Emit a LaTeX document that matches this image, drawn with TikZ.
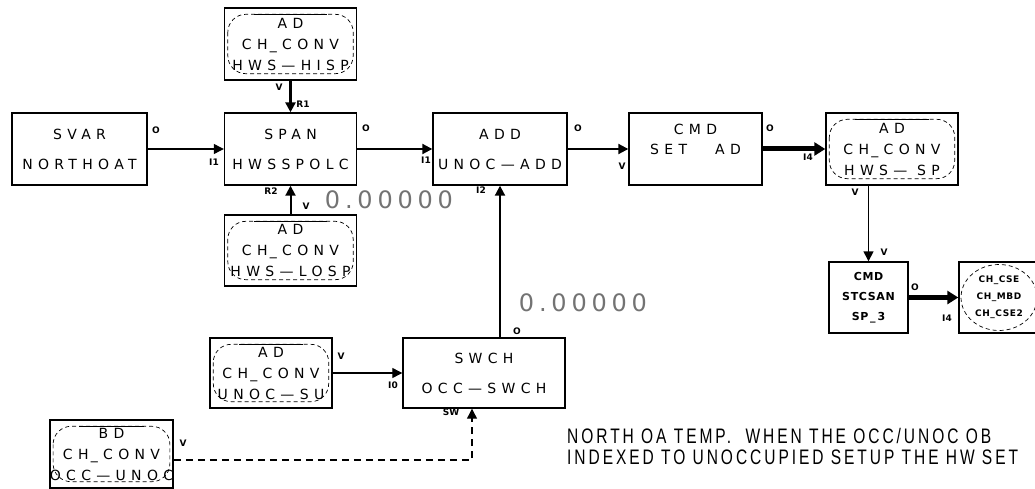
\documentclass[tikz,border=0pt]{standalone}
\usepackage{fontspec}
\usetikzlibrary{arrows.meta}
\newfontfamily\blkfont[LetterSpace=38]{DejaVu Sans}
\newfontfamily\tightfont[LetterSpace=6]{DejaVu Sans}
\newfontfamily\pinfont{DejaVu Sans}
\newfontfamily\valfont[LetterSpace=20]{DejaVu Sans}
\newfontfamily\notefont[FakeStretch=0.74,LetterSpace=14]{Liberation Sans}

\begin{document}
\begin{tikzpicture}[x=1pt,y=-1pt,
    blk/.style={draw, line width=1.4pt, align=center, inner sep=0pt, font=\blkfont\fontsize{14}{30}\selectfont},
    adblk/.style={blk, font=\blkfont\fontsize{14}{21}\selectfont},
    smblk/.style={blk, font=\tightfont\bfseries\fontsize{11}{20}\selectfont},
    ovl/.style={line width=0.7pt, dash pattern=on 4pt off 3pt, rounded corners=18pt},
    pinlbl/.style={font=\pinfont\bfseries\fontsize{9}{9}\selectfont, inner sep=0pt},
    sig/.style={line width=1.2pt, -{Triangle[length=10pt,width=10pt]}},
    valtxt/.style={font=\valfont\fontsize{24}{24}\selectfont, text=black!55, inner sep=0pt}
  ]
  \useasboundingbox (0,0) rectangle (1035,489);

  \node[blk, minimum width=135pt, minimum height=72pt] (svar) at (79.5,149) {SVAR\\NORTHOAT};
  \node[blk, minimum width=132pt, minimum height=72pt] (span) at (290.5,149) {SPAN\\HWSSPOLC};
  \node[adblk, minimum width=132pt, minimum height=72pt] (hisp) at (290.5,44) {AD\\CH\,\_CONV\\HWS—HISP};
  \node[adblk, minimum width=132pt, minimum height=71pt] (losp) at (290.5,250.5) {AD\\CH\,\_CONV\\HWS—LOSP};
  \node[blk, minimum width=134pt, minimum height=72pt] (add) at (500,149) {ADD\\UNOC—ADD};
  \node[adblk, minimum width=133pt, minimum height=72pt, font=\blkfont\fontsize{14}{20}\selectfont] (cmdad) at (695.5,149) {CMD\\SET\qquad AD\\\mbox{}};
  \node[adblk, minimum width=132pt, minimum height=72pt] (hwssp) at (892,149) {AD\\CH\,\_CONV\\HWS— SP};
  \node[smblk, minimum width=79pt, minimum height=71pt] (stcsan) at (868.5,297.5) {CMD\\STCSAN\\SP\,\_\,3};
  \node[smblk, minimum width=80pt, minimum height=71pt, font=\tightfont\bfseries\fontsize{9}{17}\selectfont] (cse) at (999,297.5) {CH\_CSE\\CH\_MBD\\CH\_CSE2};
  \node[adblk, minimum width=122pt, minimum height=70pt] (unocsu) at (271,373) {AD\\CH\,\_CONV\\UNOC—SU};
  \node[blk, minimum width=162pt, minimum height=70pt] (swch) at (484,373) {SWCH\\OCC—SWCH};
  \node[adblk, minimum width=123pt, minimum height=68pt] (bd) at (111.5,454) {BD\\CH\,\_CONV\\OCC—UNOC};

  \foreach \b in {hisp,losp,hwssp,unocsu,bd} {
    \draw[ovl] ([shift={(4,7)}]\b.north west) rectangle ([shift={(-4,-7)}]\b.south east);
    \draw[line width=0.9pt] ([shift={(30,7)}]\b.north west) -- ([shift={(-30,7)}]\b.north east);
  }
  \draw[ovl] (cse.center) ellipse [x radius=38pt, y radius=33pt];

  \draw[sig] (svar.east) -- (span.west);
  \draw[sig, line width=2pt] (span.east) -- (add.west);
  \draw[sig, line width=2.5pt] (hisp.south) -- (span.north);
  \draw[sig, line width=2pt] (losp.north) -- (span.south);
  \draw[sig, line width=2pt] (add.east) -- (cmdad.west);
  \draw[sig, line width=2pt] (swch.north -| add.south) -- (add.south);
  \draw[sig] (unocsu.east) -- (swch.west);
  \draw[sig, dash pattern=on 7pt off 5pt] (bd.east |- 0,460) -| ([xshift=-12pt]swch.south);
  \draw[sig, line width=5pt, -{Triangle[length=11pt,width=13pt]}] (cmdad.east) -- (hwssp.west);
  \draw[sig, line width=1.5pt] (hwssp.south -| stcsan.north) -- (stcsan.north);
  \draw[sig, line width=5pt, -{Triangle[length=11pt,width=13pt]}] (stcsan.east) -- (cse.west);

  \node[pinlbl] (svar-o) at (156,130) {O};
  \node[pinlbl] (span-i) at (214,162) {I1};
  \node[pinlbl] (span-o) at (366,128) {O};
  \node[pinlbl] (span-r1) at (303,104) {R1};
  \node[pinlbl] (span-r2) at (271,191) {R2};
  \node[pinlbl] (hisp-v) at (279,87) {V};
  \node[pinlbl] (losp-v) at (306,206) {V};
  \node[pinlbl] (add-i1) at (426,160) {I1};
  \node[pinlbl] (add-i2) at (481,190) {I2};
  \node[pinlbl] (add-o) at (578,128) {O};
  \node[pinlbl] (cmdad-v) at (622,166) {V};
  \node[pinlbl] (cmdad-o) at (770,128) {O};
  \node[pinlbl] (hwssp-i) at (808,157) {I4};
  \node[pinlbl] (hwssp-v) at (855,192) {V};
  \node[pinlbl] (stcsan-v) at (884,252) {V};
  \node[pinlbl] (stcsan-o) at (915,287) {O};
  \node[pinlbl] (cse-i) at (947,318) {I4};
  \node[pinlbl] (unocsu-v) at (341,356) {V};
  \node[pinlbl] (swch-i0) at (393,385) {I0};
  \node[pinlbl] (swch-o) at (517,331) {O};
  \node[pinlbl] (swch-sw) at (451,412) {SW};
  \node[pinlbl] (bd-v) at (183,443) {V};

  \node[valtxt] (lospval) at (389,200) {0.00000};
  \node[valtxt] (swchval) at (583,303) {0.00000};

  \node[anchor=north west, inner sep=0pt, align=left, font=\notefont\fontsize{21}{21}\selectfont] (note) at (567,428)
    {NORTH OA TEMP.\ \ WHEN THE OCC/UNOC OB\\INDEXED TO UNOCCUPIED SETUP THE HW SET};
\end{tikzpicture}
\end{document}
